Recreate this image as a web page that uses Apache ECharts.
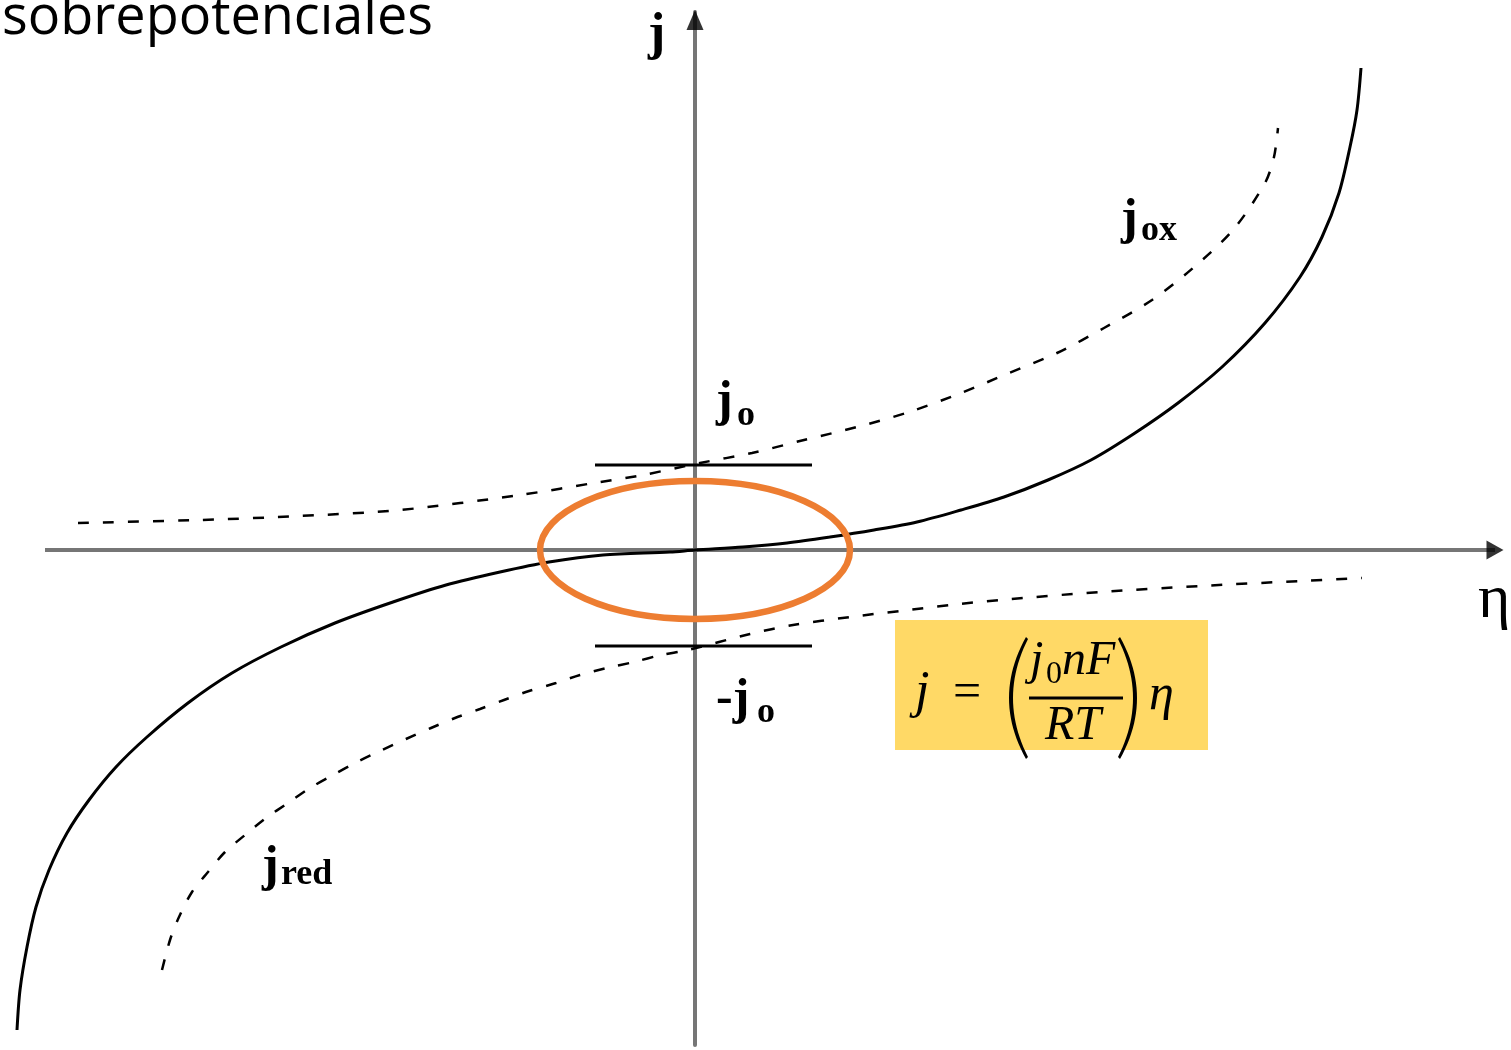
<!DOCTYPE html>
<html>
<head>
<meta charset="utf-8">
<title>sobrepotenciales</title>
<script src="https://cdn.jsdelivr.net/npm/echarts@6/dist/echarts.min.js"></script>
<style>
  html, body { margin: 0; padding: 0; background: #ffffff; }
  #chart { width: 1511px; height: 1050px; }
</style>
</head>
<body>
<div id="chart"></div>
<script>
// Plot extents (η horizontal, j vertical), arbitrary units
const ETA_RANGE = [-6.85, 8.08];
const J_RANGE = [-4.95, 5.38];
// Drawn span of the η axis line
const ETA_AXIS_SPAN = [-6.5, 8.0];

// Net current density j(η)
const netEta = [-6.78, -6.75, -6.68, -6.59, -6.46, -6.28, -6.06, -5.79, -5.48, -5.07, -4.63, -4.14, -3.60, -3.02, -2.49, -1.95, -1.46, -0.92, -0.25, 0.00, 0.48, 0.92, 1.35, 1.79, 2.22, 2.66, 3.09, 3.53, 3.96, 4.40, 4.83, 5.27, 5.70, 6.05, 6.27, 6.44, 6.55, 6.62, 6.66];
const netJ   = [-4.80, -4.40, -3.97, -3.57, -3.20, -2.83, -2.50, -2.17, -1.87, -1.53, -1.23, -0.97, -0.73, -0.52, -0.35, -0.22, -0.12, -0.05, -0.02, 0.00, 0.03, 0.07, 0.13, 0.20, 0.28, 0.40, 0.53, 0.70, 0.90, 1.17, 1.47, 1.83, 2.27, 2.73, 3.13, 3.57, 4.03, 4.40, 4.82];

// Anodic branch j_ox(η)
const oxEta = [-6.17, -4.95, -3.95, -2.95, -1.75, -0.95, -0.52, 0.05, 0.57, 1.09, 1.62, 2.14, 2.66, 3.14, 3.62, 4.09, 4.57, 4.98, 5.38, 5.70, 5.79, 5.83];
const oxJ   = [0.27, 0.30, 0.34, 0.40, 0.55, 0.68, 0.75, 0.87, 0.97, 1.10, 1.23, 1.38, 1.57, 1.77, 1.97, 2.22, 2.50, 2.82, 3.20, 3.67, 3.93, 4.22];

// Cathodic branch j_red(η)
const redEta = [-5.33, -5.25, -5.16, -5.03, -4.87, -4.70, -4.50, -4.29, -4.07, -3.85, -3.62, -3.38, -3.13, -2.89, -2.64, -2.40, -2.15, -1.91, -1.66, -1.39, -1.15, -0.88, -0.61, -0.34, -0.07, 0.55, 0.98, 1.55, 2.05, 2.55, 3.05, 4.05, 5.05, 6.05, 6.67];
const redJ   = [-4.20, -3.90, -3.67, -3.42, -3.22, -3.02, -2.85, -2.68, -2.53, -2.38, -2.25, -2.12, -2.00, -1.89, -1.78, -1.68, -1.59, -1.50, -1.41, -1.33, -1.25, -1.18, -1.12, -1.05, -1.00, -0.84, -0.75, -0.67, -0.61, -0.55, -0.50, -0.42, -0.36, -0.31, -0.28];

// Exchange current density markers ±j0
const j0Levels = [0.85, -0.96];
const j0SpanEta = [-1.00, 1.17];

// Low-overpotential (linear) region highlighted around the origin
const linearRegionCenter = [0, 0];
const linearRegionRadii = [1.55, 0.69];

const zip = (xs, ys) => xs.map((x, i) => [x, ys[i]]);

const chart = echarts.init(document.getElementById('chart'), null, { renderer: 'canvas' });

const AXIS_GRAY = '#767676';
const dashStyle = { color: '#000000', width: 2.5, type: [11, 14] };

const option = {
  animation: false,
  backgroundColor: '#ffffff',
  grid: { left: 10, right: 8, top: 12, bottom: 5, containLabel: false },
  xAxis: {
    type: 'value', min: ETA_RANGE[0], max: ETA_RANGE[1],
    axisLine: { show: false },
    axisTick: { show: false }, axisLabel: { show: false }, splitLine: { show: false }
  },
  yAxis: {
    type: 'value', min: J_RANGE[0], max: J_RANGE[1],
    axisLine: { show: true, onZero: true, lineStyle: { color: AXIS_GRAY, width: 4 } },
    axisTick: { show: false }, axisLabel: { show: false }, splitLine: { show: false }
  },
  series: [
    {
      name: 'η axis', type: 'line', data: ETA_AXIS_SPAN.map(e => [e, 0]),
      showSymbol: false, z: 1, silent: true,
      lineStyle: { color: AXIS_GRAY, width: 4 }
    },
    {
      name: 'j', type: 'line', data: zip(netEta, netJ),
      showSymbol: false, smooth: 0.3, z: 5,
      lineStyle: { color: '#000000', width: 3 }
    },
    {
      name: 'jox', type: 'line', data: zip(oxEta, oxJ),
      showSymbol: false, smooth: 0.3, z: 4, lineStyle: dashStyle
    },
    {
      name: 'jred', type: 'line', data: zip(redEta, redJ),
      showSymbol: false, smooth: 0.3, z: 4, lineStyle: dashStyle
    },
    ...j0Levels.map((lv, i) => ({
      name: i === 0 ? 'j0' : '-j0', type: 'line',
      data: j0SpanEta.map(e => [e, lv]), showSymbol: false, z: 6,
      lineStyle: { color: '#000000', width: 3 }
    })),
    {
      name: 'arrowEta', type: 'scatter', data: [[ETA_AXIS_SPAN[1], 0]],
      symbol: 'triangle', symbolSize: [19, 17], symbolRotate: -90, z: 7,
      itemStyle: { color: '#000000' }, silent: true
    },
    {
      name: 'arrowJ', type: 'scatter', data: [[0, J_RANGE[1] - 0.08]],
      symbol: 'triangle', symbolSize: [17, 20], z: 7,
      itemStyle: { color: '#000000' }, silent: true
    }
  ]
};

chart.setOption(option);

// Text placed by baseline; canvas 'middle' sits ~k·size above the baseline
function label(text, x, baseline, size, family, extra) {
  const k = family.indexOf('Serif') >= 0 ? 0.34 : 0.39;
  return {
    type: 'text', x: x, y: baseline - k * size, z: 50,
    style: Object.assign({
      text: text, fontSize: size, fontFamily: family, fill: '#000000',
      align: 'left', verticalAlign: 'middle', lineHeight: size
    }, extra || {})
  };
}

// Tall bracket glyph outline: outer and inner quadratic edges
function bracket(x0, yTop, yBot, bulge, thick) {
  const pts = [];
  const ym = (yTop + yBot) / 2;
  const q = (a, c, b, t) => (1 - t) * (1 - t) * a + 2 * (1 - t) * t * c + t * t * b;
  const N = 24;
  for (let i = 0; i <= N; i++) {
    const t = i / N;
    pts.push([q(x0, x0 + bulge, x0, t), q(yTop, ym, yBot, t)]);
  }
  const dir = bulge < 0 ? 1 : -1;
  for (let i = N; i >= 0; i--) {
    const t = i / N;
    pts.push([q(x0 + dir * 2, x0 + bulge + dir * thick, x0 + dir * 2, t), q(yTop + 2, ym, yBot - 2, t)]);
  }
  return { type: 'polygon', z: 50, shape: { points: pts }, style: { fill: '#000000' } };
}

const SERIF = 'Liberation Serif';
const c0 = chart.convertToPixel({ gridIndex: 0 }, linearRegionCenter);
const c1 = chart.convertToPixel({ gridIndex: 0 }, [linearRegionCenter[0] + linearRegionRadii[0], linearRegionCenter[1] + linearRegionRadii[1]]);

const it = { fontStyle: 'italic' };
const bd = { fontWeight: 'bold' };

chart.setOption({
  graphic: [
    // slide heading (partly cut off at the top edge)
    label('sobrepotenciales', 2, 40, 54, 'Open Sans'),
    // axis names
    label('j', 648, 53, 52, SERIF, bd),
    label('η', 1478, 622, 62, SERIF),
    // ±j0 markers
    label('j', 716, 419, 50, SERIF, bd),
    label('o', 737, 428, 36, SERIF, bd),
    label('-j', 716, 717, 50, SERIF, bd),
    label('o', 757, 725, 36, SERIF, bd),
    // branch labels
    label('j', 1121, 237, 50, SERIF, bd),
    label('ox', 1141, 243, 36, SERIF, bd),
    label('j', 262, 884, 50, SERIF, bd),
    label('red', 281, 887, 36, SERIF, bd),
    // linear-region highlight
    {
      type: 'ellipse', z: 60,
      shape: { cx: c0[0], cy: c0[1], rx: c1[0] - c0[0], ry: c0[1] - c1[1] },
      style: { fill: 'none', stroke: '#ED7D31', lineWidth: 6.5 }
    },
    // low-overpotential formula box
    { type: 'rect', z: 20, shape: { x: 895, y: 620, width: 313, height: 130 }, style: { fill: '#FFD966' } },
    label('j', 915, 711, 52, SERIF, it),
    label('=', 953, 711, 50, SERIF),
    bracket(1026, 637, 759, -34, 6),
    label('j', 1030, 678, 48, SERIF, it),
    label('0', 1046, 685, 32, SERIF),
    label('nF', 1062, 678, 48, SERIF, it),
    { type: 'rect', z: 50, shape: { x: 1029, y: 696.5, width: 94, height: 3 }, style: { fill: '#000000' } },
    label('RT', 1045, 743, 48, SERIF, it),
    bracket(1120, 637, 759, 34, 6),
    label('η', 1149, 713, 50, SERIF, it)
  ]
});
</script>
</body>
</html>
